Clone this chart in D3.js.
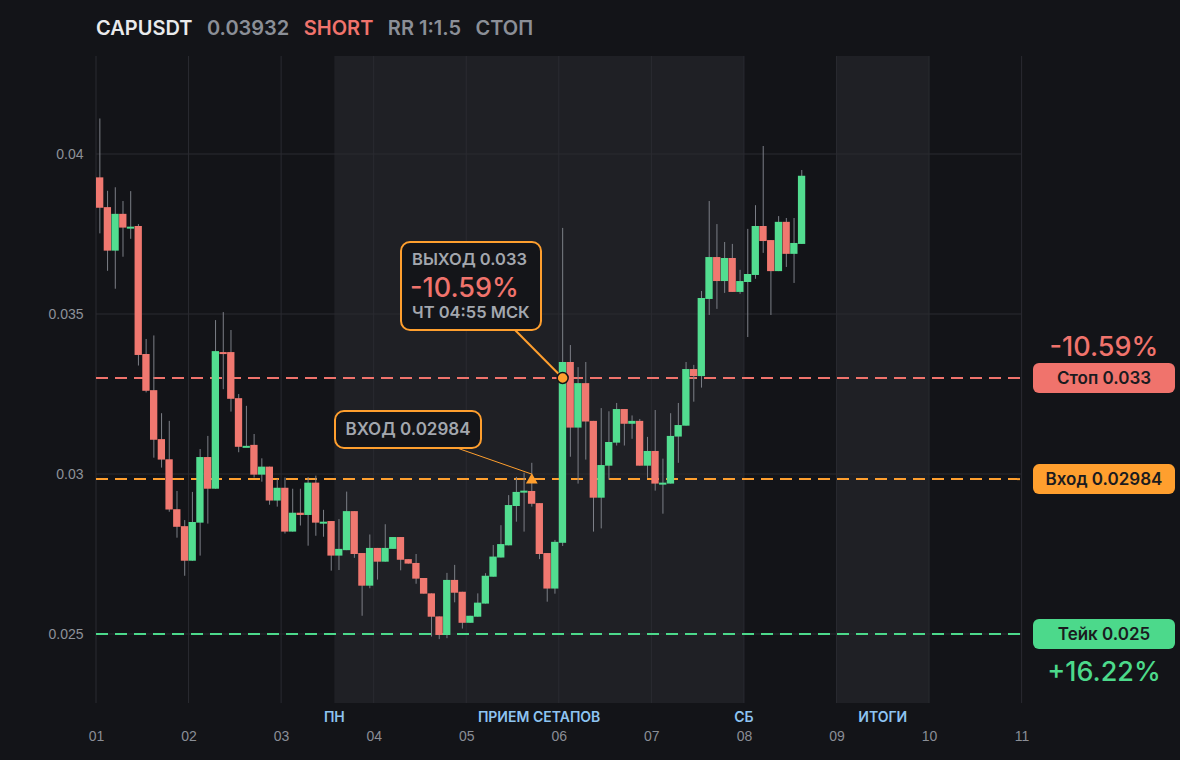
<!DOCTYPE html>
<html>
<head>
<meta charset="utf-8">
<script src="https://cdn.jsdelivr.net/npm/d3@7"></script>
<style>
    body { margin: 0; background: #131418; }
    svg { display: block; font-family: Inter, 'Noto Sans', sans-serif; }
</style>
</head>
<body>
<div id="chart"></div>
<script>
// 2h candles, day 01 00:00 onwards.
var opens = [0.03927, 0.03834, 0.03698, 0.03813, 0.03770, 0.03775, 0.03375, 0.03262, 0.03109, 0.03046, 0.02890, 0.02837,
             0.02729, 0.02848, 0.03053, 0.02954, 0.03381, 0.03381, 0.03237, 0.03085, 0.03091, 0.02998, 0.03023, 0.02917,
             0.02957, 0.02820, 0.02879, 0.02872, 0.02973, 0.02848, 0.02853, 0.02745, 0.02762, 0.02884, 0.02753, 0.02651,
             0.02769, 0.02726, 0.02766, 0.02803, 0.02734, 0.02722, 0.02675, 0.02627, 0.02555, 0.02497, 0.02669, 0.02632,
             0.02535, 0.02554, 0.02595, 0.02679, 0.02739, 0.02777, 0.02900, 0.02944, 0.02947, 0.02909, 0.02753, 0.02642,
             0.02785, 0.03350, 0.03145, 0.03284, 0.03166, 0.02926, 0.03026, 0.03098, 0.03203, 0.03157, 0.03166, 0.03026,
             0.03072, 0.02970, 0.02970, 0.03117, 0.03151, 0.03328, 0.03306, 0.03547, 0.03678, 0.03603, 0.03675, 0.03569,
             0.03600, 0.03622, 0.03775, 0.03731, 0.03634, 0.03788, 0.03688, 0.03719];
var highs = [0.04111, 0.03885, 0.03896, 0.03853, 0.03884, 0.03781, 0.03422, 0.03433, 0.03190, 0.03166, 0.02947, 0.02856,
             0.02944, 0.03078, 0.03119, 0.03481, 0.03506, 0.03450, 0.03250, 0.03213, 0.03125, 0.03049, 0.03023, 0.02985,
             0.02989, 0.02954, 0.02954, 0.02990, 0.02995, 0.02888, 0.02853, 0.02859, 0.02945, 0.02884, 0.02753, 0.02811,
             0.02769, 0.02843, 0.02803, 0.02803, 0.02734, 0.02750, 0.02675, 0.02627, 0.02555, 0.02691, 0.02716, 0.02632,
             0.02557, 0.02627, 0.02690, 0.02778, 0.02840, 0.02934, 0.02991, 0.03004, 0.03035, 0.02909, 0.02753, 0.02794,
             0.03769, 0.03403, 0.03334, 0.03350, 0.03166, 0.03206, 0.03196, 0.03222, 0.03203, 0.03183, 0.03172, 0.03116,
             0.03200, 0.03048, 0.03190, 0.03222, 0.03350, 0.03341, 0.03572, 0.03853, 0.03781, 0.03725, 0.03719, 0.03638,
             0.03766, 0.03840, 0.04025, 0.03731, 0.03806, 0.03800, 0.03800, 0.03950];
var lows = [0.03752, 0.03635, 0.03579, 0.03679, 0.03735, 0.03339, 0.03255, 0.03051, 0.03020, 0.02882, 0.02801, 0.02682,
            0.02729, 0.02745, 0.02845, 0.02954, 0.03265, 0.03195, 0.03068, 0.03085, 0.02989, 0.02976, 0.02904, 0.02898,
            0.02814, 0.02820, 0.02839, 0.02776, 0.02807, 0.02804, 0.02698, 0.02700, 0.02762, 0.02738, 0.02557, 0.02643,
            0.02670, 0.02726, 0.02766, 0.02699, 0.02720, 0.02657, 0.02626, 0.02492, 0.02484, 0.02487, 0.02599, 0.02517,
            0.02535, 0.02554, 0.02595, 0.02679, 0.02739, 0.02777, 0.02851, 0.02820, 0.02898, 0.02734, 0.02601, 0.02626,
            0.02775, 0.03054, 0.02970, 0.03045, 0.02820, 0.02830, 0.02982, 0.03089, 0.03089, 0.03110, 0.03026, 0.02988,
            0.02948, 0.02876, 0.02970, 0.03035, 0.03151, 0.03226, 0.03270, 0.03497, 0.03516, 0.03566, 0.03569, 0.03563,
            0.03428, 0.03610, 0.03691, 0.03497, 0.03634, 0.03647, 0.03597, 0.03719];
var closes = [0.03832, 0.03698, 0.03813, 0.03770, 0.03773, 0.03372, 0.03260, 0.03107, 0.03045, 0.02889, 0.02835, 0.02729,
              0.02850, 0.03053, 0.02954, 0.03384, 0.03378, 0.03235, 0.03085, 0.03088, 0.02998, 0.03023, 0.02917, 0.02957,
              0.02820, 0.02879, 0.02872, 0.02973, 0.02848, 0.02851, 0.02745, 0.02766, 0.02884, 0.02750, 0.02651, 0.02769,
              0.02726, 0.02769, 0.02803, 0.02732, 0.02720, 0.02673, 0.02626, 0.02554, 0.02497, 0.02669, 0.02629, 0.02535,
              0.02557, 0.02598, 0.02682, 0.02742, 0.02781, 0.02903, 0.02944, 0.02948, 0.02907, 0.02750, 0.02642, 0.02788,
              0.03350, 0.03145, 0.03284, 0.03164, 0.02926, 0.03028, 0.03100, 0.03203, 0.03157, 0.03166, 0.03026, 0.03072,
              0.02970, 0.02973, 0.03119, 0.03153, 0.03328, 0.03306, 0.03550, 0.03678, 0.03603, 0.03675, 0.03569, 0.03603,
              0.03625, 0.03775, 0.03728, 0.03634, 0.03788, 0.03688, 0.03722, 0.03932];

var dayTicks = [1, 2, 3, 4, 5, 6, 7, 8, 9, 10, 11];
var priceTicks = [0.025, 0.03, 0.035, 0.04];

// Shaded sessions (in days) and their labels.
var shadeStarts = [3.575, 9];
var shadeEnds = [8, 10];
var shadeLabels = ['ПРИЕМ СЕТАПОВ', 'ИТОГИ'];
var edgeLabels = [{day: 3.575, text: 'ПН'}, {day: 8, text: 'СБ'}];

// Trade levels.
var stopPrice = 0.033, entryPrice = 0.02984, takePrice = 0.025;
var entryIndex = 56, exitIndex = 60;

var width = 1180, height = 760;
var plot = {left: 96, right: 1021.6, top: 56, bottom: 703};

var svg = d3.select('#chart')
    .append('svg')
        .attr('width', width)
        .attr('height', height);

svg.append('rect')
    .attr('width', width)
    .attr('height', height)
    .attr('fill', '#131418');

var x = d3.scaleLinear()
    .domain([1, 11])
    .range([plot.left, plot.right]);

var y = d3.scaleLinear()
    .domain([0.02284375, 0.0430625])
    .range([plot.bottom, plot.top]);

var step = x(1 + 1 / 12) - x(1);
function candleTime(i) { return 1 + i / 12; }

// Shaded sessions.
svg.selectAll('.shade')
    .data(shadeStarts)
    .enter().append('rect')
        .attr('class', 'shade')
        .attr('x', function(d){ return x(d); })
        .attr('y', plot.top)
        .attr('width', function(d, i){ return x(shadeEnds[i]) - x(d); })
        .attr('height', plot.bottom - plot.top)
        .attr('fill', '#1f2025');

// Grid lines.
svg.selectAll('.vgrid')
    .data(dayTicks)
    .enter().append('line')
        .attr('x1', function(d){ return x(d); })
        .attr('x2', function(d){ return x(d); })
        .attr('y1', plot.top)
        .attr('y2', plot.bottom)
        .attr('stroke', '#2a2b31')
        .attr('stroke-width', 1);

svg.selectAll('.hgrid')
    .data(priceTicks)
    .enter().append('line')
        .attr('x1', plot.left)
        .attr('x2', plot.right)
        .attr('y1', function(d){ return y(d); })
        .attr('y2', function(d){ return y(d); })
        .attr('stroke', '#2a2b31')
        .attr('stroke-width', 1);

// Axes.
var yAxis = svg.append('g')
    .attr('transform', 'translate(' + plot.left + ', 0)')
    .call(d3.axisLeft(y).tickValues(priceTicks).tickSize(0).tickPadding(12.5)
        .tickFormat(function(d){ return String(+d.toFixed(3)); }));
yAxis.select('.domain').remove();
yAxis.selectAll('text')
    .attr('fill', '#8d9199')
    .style('font-size', '14px');

var xAxis = svg.append('g')
    .attr('transform', 'translate(0, ' + plot.bottom + ')')
    .call(d3.axisBottom(x).tickValues(dayTicks).tickSize(0).tickPadding(28)
        .tickFormat(d3.format('02d')));
xAxis.select('.domain').remove();
xAxis.selectAll('text')
    .attr('fill', '#8a8e96')
    .style('font-size', '14px');

// Session labels.
svg.selectAll('.shade-label')
    .data(shadeLabels)
    .enter().append('text')
        .attr('x', function(d, i){ return (x(shadeStarts[i]) + x(shadeEnds[i])) / 2; })
        .attr('y', 722)
        .attr('text-anchor', 'middle')
        .attr('fill', '#8ec4f2')
        .style('font-size', '14px')
        .style('font-weight', 600)
        .text(function(d){ return d; });

svg.selectAll('.edge-label')
    .data(edgeLabels)
    .enter().append('text')
        .attr('x', function(d){ return x(d.day); })
        .attr('y', 722)
        .attr('text-anchor', 'middle')
        .attr('fill', '#8ec4f2')
        .style('font-size', '14px')
        .style('font-weight', 600)
        .text(function(d){ return d.text; });

// Level lines.
var levels = [
    {price: stopPrice, color: '#f0736c', label: 'Стоп 0.033', pct: '-10.59%'},
    {price: entryPrice, color: '#ff9f2e', label: 'Вход 0.02984', pct: null},
    {price: takePrice, color: '#4cd98b', label: 'Тейк 0.025', pct: '+16.22%'}
];

svg.selectAll('.level')
    .data(levels)
    .enter().append('line')
        .attr('x1', plot.left)
        .attr('x2', plot.right)
        .attr('y1', function(d){ return y(d.price); })
        .attr('y2', function(d){ return y(d.price); })
        .attr('stroke', function(d){ return d.color; })
        .attr('stroke-width', 2)
        .attr('stroke-dasharray', '12,7');

// Candles: wick then body.
var idx = d3.range(opens.length);

svg.selectAll('.wick')
    .data(idx)
    .enter().append('line')
        .attr('x1', function(i){ return x(candleTime(i)) + step / 2; })
        .attr('x2', function(i){ return x(candleTime(i)) + step / 2; })
        .attr('y1', function(i){ return y(highs[i]); })
        .attr('y2', function(i){ return y(lows[i]); })
        .attr('stroke', '#7c7f87')
        .attr('stroke-width', 1);

svg.selectAll('.body')
    .data(idx)
    .enter().append('rect')
        .attr('x', function(i){ return x(candleTime(i)); })
        .attr('width', step - 0.4)
        .attr('y', function(i){ return y(Math.max(opens[i], closes[i])); })
        .attr('height', function(i){ return Math.max(2, Math.abs(y(opens[i]) - y(closes[i]))); })
        .attr('fill', function(i){ return closes[i] >= opens[i] ? '#52dd90' : '#f07870'; });

// Right side pills.
var pillX = 1033, pillW = 142, pillH = 30;
var pills = svg.selectAll('.pill')
    .data(levels)
    .enter().append('g')
        .attr('transform', function(d){ return 'translate(' + pillX + ', ' + (y(d.price) - pillH / 2) + ')'; });
pills.append('rect')
    .attr('width', pillW)
    .attr('height', pillH)
    .attr('rx', 6)
    .attr('fill', function(d){ return d.color; });
pills.append('text')
    .attr('x', pillW / 2)
    .attr('y', pillH / 2)
    .attr('dy', '0.36em')
    .attr('text-anchor', 'middle')
    .attr('fill', '#1a1b1f')
    .style('font-size', '17px')
    .style('font-weight', 600)
    .text(function(d){ return d.label; });

svg.append('text')
    .attr('x', pillX + pillW / 2)
    .attr('y', y(stopPrice) - 22)
    .attr('text-anchor', 'middle')
    .attr('fill', '#f0736c')
    .style('font-size', '27px')
    .style('font-weight', 500)
    .text(levels[0].pct);

svg.append('text')
    .attr('x', pillX + pillW / 2)
    .attr('y', y(takePrice) + 47)
    .attr('text-anchor', 'middle')
    .attr('fill', '#4cd98b')
    .style('font-size', '27px')
    .style('font-weight', 500)
    .text(levels[2].pct);

// Entry annotation.
var entryX = x(candleTime(entryIndex)) + step / 2,
    entryY = y(entryPrice);

svg.append('line')
    .attr('x1', 457).attr('y1', 448)
    .attr('x2', entryX).attr('y2', entryY - 5)
    .attr('stroke', '#ff9f2e')
    .attr('stroke-width', 1);

svg.append('path')
    .attr('d', d3.symbol().type(d3.symbolTriangle).size(60))
    .attr('transform', 'translate(' + entryX + ', ' + (entryY + 1) + ')')
    .attr('fill', '#ff9f2e');

svg.append('rect')
    .attr('x', 335).attr('y', 411)
    .attr('width', 146).attr('height', 37)
    .attr('rx', 9)
    .attr('fill', '#141519')
    .attr('stroke', '#ff9f2e')
    .attr('stroke-width', 2);

svg.append('text')
    .attr('x', 408).attr('y', 435)
    .attr('text-anchor', 'middle')
    .attr('fill', '#a3a7ae')
    .style('font-size', '17px')
    .style('font-weight', 600)
    .text('ВХОД 0.02984');

// Exit annotation.
var exitX = x(candleTime(exitIndex)) + step / 2,
    exitY = y(stopPrice);

svg.append('line')
    .attr('x1', 515).attr('y1', 330)
    .attr('x2', exitX).attr('y2', exitY)
    .attr('stroke', '#ff9f2e')
    .attr('stroke-width', 2);

svg.append('rect')
    .attr('x', 401).attr('y', 242)
    .attr('width', 140).attr('height', 88)
    .attr('rx', 9)
    .attr('fill', '#141519')
    .attr('stroke', '#ff9f2e')
    .attr('stroke-width', 2);

svg.append('text')
    .attr('x', 412).attr('y', 265)
    .attr('fill', '#a3a7ae')
    .style('font-size', '16.5px')
    .style('font-weight', 600)
    .text('ВЫХОД 0.033');

svg.append('text')
    .attr('x', 410).attr('y', 297)
    .attr('fill', '#f0736c')
    .style('font-size', '27px')
    .style('font-weight', 500)
    .text('-10.59%');

svg.append('text')
    .attr('x', 412).attr('y', 318)
    .attr('fill', '#a3a7ae')
    .style('font-size', '16.5px')
    .style('font-weight', 600)
    .text('ЧТ 04:55 МСК');

svg.append('circle')
    .attr('cx', exitX)
    .attr('cy', exitY)
    .attr('r', 5.5)
    .attr('fill', '#ff9f2e')
    .attr('stroke', '#141519')
    .attr('stroke-width', 1.5);

// Header line, laid out left to right.
var header = [
    {text: 'CAPUSDT', color: '#e9eaec'},
    {text: '0.03932', color: '#8b8f97'},
    {text: 'SHORT', color: '#f0736c'},
    {text: 'RR 1:1.5', color: '#8b8f97'},
    {text: 'СТОП', color: '#8b8f97'}
];
var hx = 96;
header.forEach(function(h){
    var t = svg.append('text')
        .attr('x', hx)
        .attr('y', 35)
        .attr('fill', h.color)
        .style('font-size', '20px')
        .style('font-weight', 600)
        .text(h.text);
    hx += t.node().getComputedTextLength() + 14.5;
});
</script>
</body>
</html>
